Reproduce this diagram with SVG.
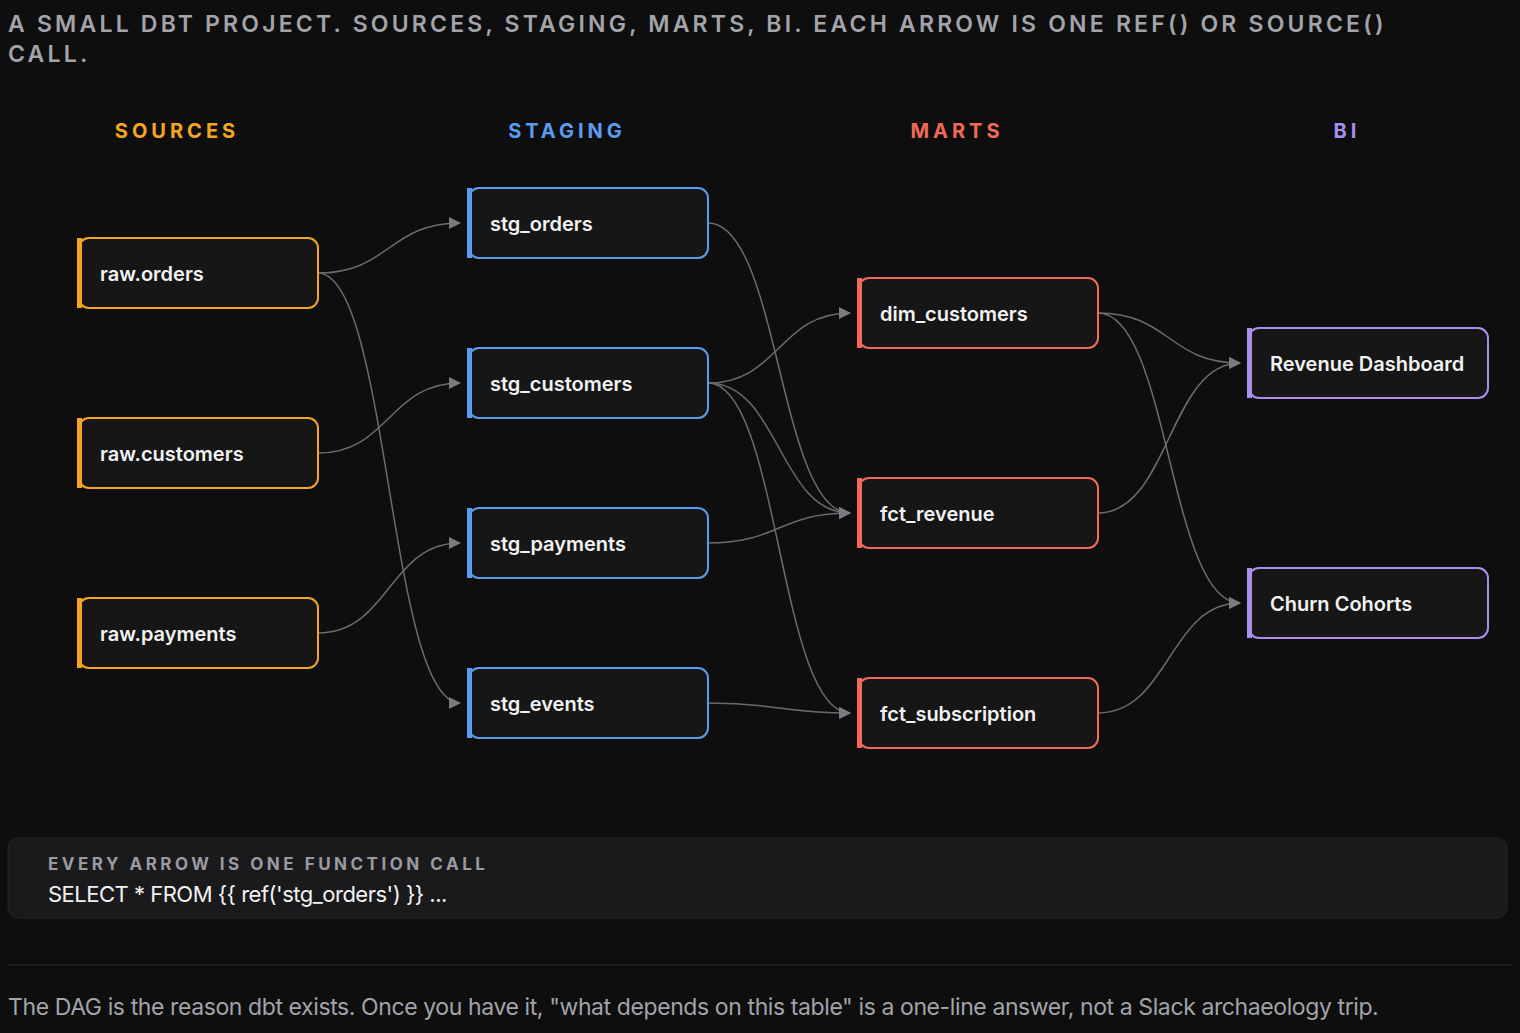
<svg xmlns="http://www.w3.org/2000/svg" width="1520" height="1033" viewBox="0 0 1520 1033">
<defs>
<style>
.n{fill:#161616;stroke-width:2}
.t{font-family:Inter,"Liberation Sans",sans-serif;font-size:20px;font-weight:600;fill:#f2f2f2}
.h{font-family:Inter,"Liberation Sans",sans-serif;font-size:20px;font-weight:700;letter-spacing:4px}
.e{fill:none;stroke:#6b6b70;stroke-width:1.5}
.src{stroke:#f5a524}.stg{stroke:#5b9cf0}.mrt{stroke:#f26a55}.bi{stroke:#a98ef0}
</style>
<marker id="a" viewBox="0 0 12 12" refX="11" refY="6" markerWidth="12" markerHeight="12" markerUnits="userSpaceOnUse" orient="auto"><path d="M0,0 L12,6 L0,12 Z" fill="#7a7a80"/></marker>
</defs>
<rect width="1520" height="1033" fill="#0e0e0f"/>
<text x="8" y="32" font-family="Inter,'Liberation Sans',sans-serif" font-size="23" font-weight="600" letter-spacing="3.2" fill="#a3a3aa">A SMALL DBT PROJECT. SOURCES, STAGING, MARTS, BI. EACH ARROW IS ONE REF() OR SOURCE()</text>
<text x="8" y="62" font-family="Inter,'Liberation Sans',sans-serif" font-size="23" font-weight="600" letter-spacing="3.2" fill="#a3a3aa">CALL.</text>
<text class="h" x="177" y="138" text-anchor="middle" fill="#f5a524">SOURCES</text>
<text class="h" x="567" y="138" text-anchor="middle" fill="#5b9cf0">STAGING</text>
<text class="h" x="957" y="138" text-anchor="middle" fill="#f26a55">MARTS</text>
<text class="h" x="1347" y="138" text-anchor="middle" fill="#a98ef0">BI</text>
<g id="edges">
<path class="e" marker-end="url(#a)" d="M318,273 C389,273 389,223 460,223"/>
<path class="e" marker-end="url(#a)" d="M318,273 C389,273 389,703 460,703"/>
<path class="e" marker-end="url(#a)" d="M318,453 C389,453 389,383 460,383"/>
<path class="e" marker-end="url(#a)" d="M318,633 C389,633 389,543 460,543"/>
<path class="e" marker-end="url(#a)" d="M708,223 C779,223 779,513 850,513"/>
<path class="e" marker-end="url(#a)" d="M708,383 C779,383 779,313 850,313"/>
<path class="e" marker-end="url(#a)" d="M708,383 C779,383 779,513 850,513"/>
<path class="e" marker-end="url(#a)" d="M708,383 C779,383 779,713 850,713"/>
<path class="e" marker-end="url(#a)" d="M708,543 C779,543 779,513 850,513"/>
<path class="e" marker-end="url(#a)" d="M708,703 C779,703 779,713 850,713"/>
<path class="e" marker-end="url(#a)" d="M1098,313 C1169,313 1169,363 1240,363"/>
<path class="e" marker-end="url(#a)" d="M1098,313 C1169,313 1169,603 1240,603"/>
<path class="e" marker-end="url(#a)" d="M1098,513 C1169,513 1169,363 1240,363"/>
<path class="e" marker-end="url(#a)" d="M1098,713 C1169,713 1169,603 1240,603"/>
</g>
<g id="raw_orders"><rect class="n src" x="79" y="238" width="239" height="70" rx="10"/><rect x="77" y="238" width="5" height="70" fill="#f5a524"/><text class="t" x="100" y="281">raw.orders</text></g>
<g id="raw_customers"><rect class="n src" x="79" y="418" width="239" height="70" rx="10"/><rect x="77" y="418" width="5" height="70" fill="#f5a524"/><text class="t" x="100" y="461">raw.customers</text></g>
<g id="raw_payments"><rect class="n src" x="79" y="598" width="239" height="70" rx="10"/><rect x="77" y="598" width="5" height="70" fill="#f5a524"/><text class="t" x="100" y="641">raw.payments</text></g>
<g id="stg_orders"><rect class="n stg" x="469" y="188" width="239" height="70" rx="10"/><rect x="467" y="188" width="5" height="70" fill="#5b9cf0"/><text class="t" x="490" y="231">stg_orders</text></g>
<g id="stg_customers"><rect class="n stg" x="469" y="348" width="239" height="70" rx="10"/><rect x="467" y="348" width="5" height="70" fill="#5b9cf0"/><text class="t" x="490" y="391">stg_customers</text></g>
<g id="stg_payments"><rect class="n stg" x="469" y="508" width="239" height="70" rx="10"/><rect x="467" y="508" width="5" height="70" fill="#5b9cf0"/><text class="t" x="490" y="551">stg_payments</text></g>
<g id="stg_events"><rect class="n stg" x="469" y="668" width="239" height="70" rx="10"/><rect x="467" y="668" width="5" height="70" fill="#5b9cf0"/><text class="t" x="490" y="711">stg_events</text></g>
<g id="dim_customers"><rect class="n mrt" x="859" y="278" width="239" height="70" rx="10"/><rect x="857" y="278" width="5" height="70" fill="#f26a55"/><text class="t" x="880" y="321">dim_customers</text></g>
<g id="fct_revenue"><rect class="n mrt" x="859" y="478" width="239" height="70" rx="10"/><rect x="857" y="478" width="5" height="70" fill="#f26a55"/><text class="t" x="880" y="521">fct_revenue</text></g>
<g id="fct_subscription"><rect class="n mrt" x="859" y="678" width="239" height="70" rx="10"/><rect x="857" y="678" width="5" height="70" fill="#f26a55"/><text class="t" x="880" y="721">fct_subscription</text></g>
<g id="revenue_dashboard"><rect class="n bi" x="1249" y="328" width="239" height="70" rx="10"/><rect x="1247" y="328" width="5" height="70" fill="#a98ef0"/><text class="t" x="1270" y="371">Revenue Dashboard</text></g>
<g id="churn_cohorts"><rect class="n bi" x="1249" y="568" width="239" height="70" rx="10"/><rect x="1247" y="568" width="5" height="70" fill="#a98ef0"/><text class="t" x="1270" y="611">Churn Cohorts</text></g>
<g id="note">
<rect x="8" y="838" width="1499" height="80" rx="10" fill="#1a1a1c" stroke="#242427"/>
<text x="48" y="870" font-family="Inter,'Liberation Sans',sans-serif" font-size="17" font-weight="700" letter-spacing="3.5" fill="#9a9aa2">EVERY ARROW IS ONE FUNCTION CALL</text>
<text x="48" y="902" font-family="Inter,'Liberation Sans',sans-serif" font-size="22" fill="#f2f2f2" letter-spacing="-0.5">SELECT * FROM {{ ref('stg_orders') }} ...</text>
</g>
<line x1="8" y1="965" x2="1512" y2="965" stroke="#2a2a2d"/>
<text x="8" y="1015" font-family="Inter,'Liberation Sans',sans-serif" font-size="23" fill="#a3a3aa" letter-spacing="-0.4">The DAG is the reason dbt exists. Once you have it, "what depends on this table" is a one-line answer, not a Slack archaeology trip.</text>
</svg>
